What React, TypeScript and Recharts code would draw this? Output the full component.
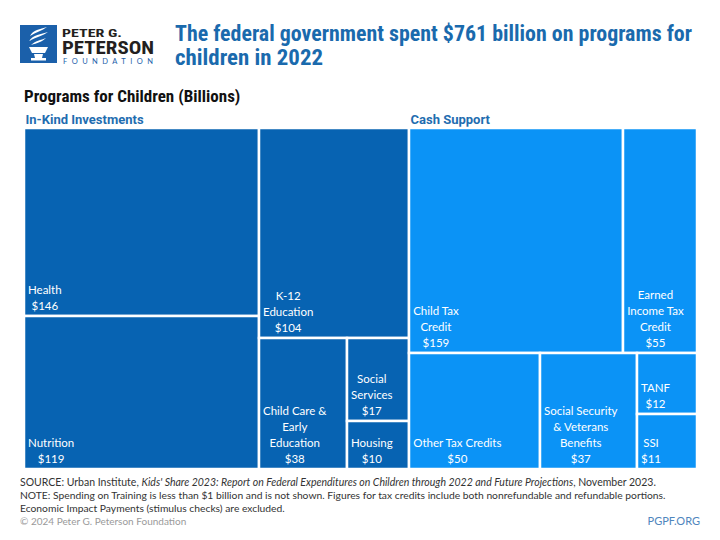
import React from 'react';
import { Treemap } from 'recharts';

const groupNames = ['In-Kind Investments', 'Cash Support'];
const inKindLabels = ['Health', 'Nutrition', 'K-12\nEducation', 'Child Care &\nEarly\nEducation', 'Social\nServices', 'Housing'];
const inKindValues = [146, 119, 104, 38, 17, 10];
const cashLabels = ['Child Tax\nCredit', 'Earned\nIncome Tax\nCredit', 'Other Tax Credits', 'Social Security\n& Veterans\nBenefits', 'TANF', 'SSI'];
const cashValues = [159, 55, 50, 37, 12, 11];

const titleLines = ['The federal government spent $761 billion on programs for', 'children in 2022'];
const subtitle = 'Programs for Children (Billions)';

const treeData = [
  { name: groupNames[0], group: 0, children: inKindLabels.map((l, i) => ({ name: l, value: inKindValues[i], group: 0 })) },
  { name: groupNames[1], group: 1, children: cashLabels.map((l, i) => ({ name: l, value: cashValues[i], group: 1 })) },
];

const GROUP_COLORS = ['#0763b2', '#0b93f6'];
const CELL_FONT = 'Lato, "Open Sans", sans-serif';
const CELL_SIZE = 11.5;
const NARROW = '"Liberation Sans Narrow", "Roboto Condensed", Roboto, sans-serif';

let ctx: CanvasRenderingContext2D | null = null;
function measure(s: string): number {
  if (typeof document === 'undefined') return s.length * 6;
  if (!ctx) ctx = document.createElement('canvas').getContext('2d');
  if (!ctx) return s.length * 6;
  ctx.font = `${CELL_SIZE}px Lato`;
  return ctx.measureText(s).width;
}

function CellContent(props: any) {
  const { depth, x, y, width, height, name, value, group } = props;
  if (depth === 1) {
    return (
      <text x={x + 1.5} y={y - 4} fill="#1f6db0" fontWeight={700} fontSize={13} fontFamily={'Roboto, sans-serif'}>
        {name}
      </text>
    );
  }
  if (depth !== 2) return null;
  const lines = [...String(name).split('\n'), `$${value}`];
  const w = Math.max(...lines.map(measure));
  const cx = x + 4 + w / 2;
  const base = y + height - 6;
  return (
    <g>
      <rect x={x} y={y} width={width} height={height} fill={GROUP_COLORS[group]} stroke="#ffffff" strokeWidth={2.5} />
      <text textAnchor="middle" fill="#ffffff" fontSize={CELL_SIZE} fontFamily={CELL_FONT}>
        {lines.map((l, i) => (
          <tspan key={i} x={cx} y={base - (lines.length - 1 - i) * 16}>{l}</tspan>
        ))}
      </text>
    </g>
  );
}

function Logo() {
  return (
    <g>
      <rect x={20} y={25} width={37} height={38} fill="#1b60aa" />
      <path d="M30 36 C33 30 40 29 47 27 C42 31 36 32 30 36 Z" fill="#fff" />
      <path d="M29 41 C33 35 41 34 48 32 C43 36 36 37 29 41 Z" fill="#fff" />
      <path d="M31 45 C35 41 41 40 46 38 C42 42 37 43 31 45 Z" fill="#fff" />
      <path d="M29 47 L48 47 L45 53 L32 53 Z" fill="#fff" />
      <path d="M34 54 L43 54 L42 58 L35 58 Z" fill="#fff" />
      <rect x={31} y={58} width={15} height={2.5} fill="#fff" />
      <text x={62} y={36.5} fontSize={11.5} fontWeight={700} fill="#231f20" fontFamily={NARROW} textLength={60} lengthAdjust="spacingAndGlyphs">PETER G.</text>
      <text x={62} y={53.5} fontSize={17.5} fontWeight={700} fill="#231f20" fontFamily={NARROW} textLength={92} lengthAdjust="spacingAndGlyphs">PETERSON</text>
      <text x={63} y={63.5} fontSize={7.5} fill="#1b60aa" fontFamily={'Lato, sans-serif'} textLength={90} lengthAdjust="spacing">FOUNDATION</text>
    </g>
  );
}

export default function App() {
  const foot = 'Lato, "Open Sans", sans-serif';
  return (
    <div style={{ position: 'absolute', left: 0, top: 0, width: 720, height: 540, background: '#fff' }}>
      <style>{'.recharts-surface{overflow:visible}'}</style>
      <svg width={720} height={540} style={{ position: 'absolute', left: 0, top: 0 }}>
        <Logo />
        <text x={175} y={41} fontSize={21.5} fontWeight={700} fill="#1a6aad" fontFamily={NARROW} textLength={517} lengthAdjust="spacingAndGlyphs">{titleLines[0]}</text>
        <text x={175} y={65} fontSize={21.5} fontWeight={700} fill="#1a6aad" fontFamily={NARROW} textLength={148} lengthAdjust="spacingAndGlyphs">{titleLines[1]}</text>
        <text x={24} y={102} fontSize={17} fontWeight={700} fill="#111" fontFamily={NARROW}>{subtitle}</text>
        <text x={20} y={486} fontSize={10.5} fill="#333" fontFamily={foot}>
          SOURCE: Urban Institute, <tspan fontStyle="italic">Kids' Share 2023: Report on Federal Expenditures on Children through 2022 and Future Projections</tspan>, November 2023.
        </text>
        <text x={20} y={499} fontSize={10.3} fill="#333" fontFamily={foot}>
          NOTE: Spending on Training is less than $1 billion and is not shown. Figures for tax credits include both nonrefundable and refundable portions.
        </text>
        <text x={20} y={512} fontSize={10.3} fill="#333" fontFamily={foot}>
          Economic Impact Payments (stimulus checks) are excluded.
        </text>
        <text x={20} y={525} fontSize={10} fill="#9a9a9a" fontFamily={foot}>© 2024 Peter G. Peterson Foundation</text>
        <text x={700} y={525} fontSize={11} fill="#4f86bd" fontFamily={foot} textAnchor="end">PGPF.ORG</text>
      </svg>
      <div style={{ position: 'absolute', left: 24, top: 128 }}>
        <Treemap
          width={673}
          height={341}
          data={treeData}
          dataKey="value"
          aspectRatio={1.4}
          isAnimationActive={false}
          content={<CellContent />}
        />
      </div>
    </div>
  );
}
